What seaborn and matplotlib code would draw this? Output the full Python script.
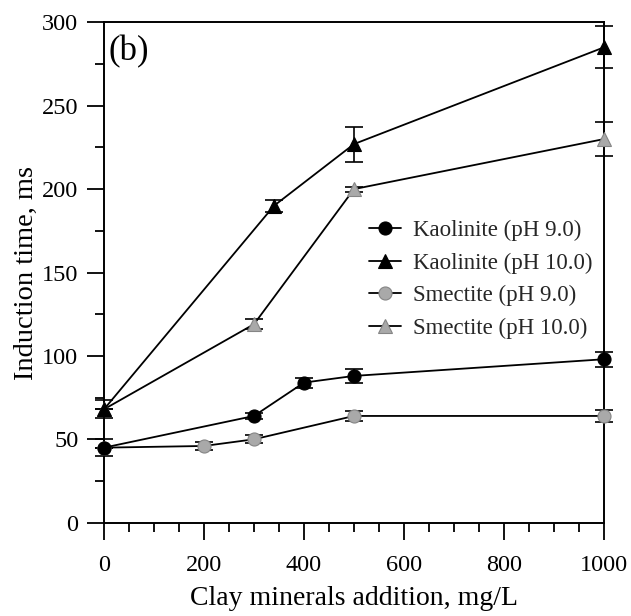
import numpy as np
import pandas as pd
import matplotlib
matplotlib.use("Agg")
import matplotlib.pyplot as plt
from matplotlib.ticker import MultipleLocator
import seaborn as sns

# ---- data ----
kao9_x = [0, 300, 400, 500, 1000]
kao9_y = [45, 64, 84, 88, 98]
kao9_err = [5, 2, 3, 4, 4.5]

kao10_x = [0, 340, 500, 1000]
kao10_y = [68, 190, 227, 285]
kao10_err = [5.5, 3.5, 10.5, 12.5]

sme9_x = [0, 200, 300, 500, 1000]
sme9_y = [45, 46, 50, 64, 64]
sme9_err = [0, 2.5, 2.5, 3, 3.5]

sme10_x = [0, 300, 500, 1000]
sme10_y = [68, 119, 200, 230]
sme10_err = [0, 3, 1.5, 10]

labels = ["Kaolinite (pH 9.0)", "Kaolinite (pH 10.0)",
          "Smectite (pH 9.0)", "Smectite (pH 10.0)"]
x_ticks = [0, 200, 400, 600, 800, 1000]
y_ticks = [0, 50, 100, 150, 200, 250, 300]
x_label = "Clay minerals addition, mg/L"
y_label = "Induction time, ms"
panel = "(b)"

sns.set_theme(style="ticks")
plt.rcParams["font.family"] = ["Liberation Serif", "DejaVu Serif"]

fig = plt.figure(figsize=(6.31, 6.16), dpi=100)
ax = fig.add_axes([104 / 631, 1 - 522.7 / 616, 500 / 631, 500.4 / 616])

grey_face = "#a9a9a9"
grey_edge = "#858585"

series = [
    (sme9_x, sme9_y, sme9_err, labels[2], "o", grey_face, grey_edge, 9.4),
    (sme10_x, sme10_y, sme10_err, labels[3], "^", grey_face, grey_edge, 10),
    (kao9_x, kao9_y, kao9_err, labels[0], "o", "black", "black", 9.4),
    (kao10_x, kao10_y, kao10_err, labels[1], "^", "black", "black", 10),
]

handles = {}
for xs, ys, es, lab, mk, fc, ec, ms in series:
    df = pd.DataFrame({"x": xs, "y": ys, "e": es})
    ax.errorbar(df["x"], df["y"], yerr=df["e"], fmt="none", ecolor="black",
                elinewidth=1.2, capsize=6.5, capthick=1.2, zorder=2, clip_on=False)
    sns.lineplot(data=df, x="x", y="y", ax=ax, color="black", lw=1.3,
                 marker=mk, markersize=ms, markerfacecolor=fc,
                 markeredgecolor=ec, markeredgewidth=0.8, label=lab,
                 zorder=3, clip_on=False, legend=False)
    handles[lab] = ax.lines[-1]

leg = ax.legend([handles[l] for l in labels], labels, frameon=False,
                loc="upper left", bbox_to_anchor=(0.53, 0.605),
                borderpad=0, borderaxespad=0, fontsize=16.5,
                handlelength=1.4, handletextpad=0.5, labelspacing=0.5)

ax.set_xlim(0, 1000)
ax.set_ylim(0, 300)
ax.set_xticks(x_ticks)
ax.set_yticks(y_ticks)
ax.xaxis.set_minor_locator(MultipleLocator(50))
ax.yaxis.set_minor_locator(MultipleLocator(25))
ax.tick_params(axis="both", which="major", direction="out", length=12.5,
               width=1.3, labelsize=17.5, color="black", labelcolor="black")
ax.tick_params(axis="x", which="major", pad=11)
ax.tick_params(axis="y", which="major", pad=6)
ax.tick_params(axis="both", which="minor", direction="out", length=6.5,
               width=1.3, color="black")
ax.tick_params(top=False, right=False, which="both")
for s in ax.spines.values():
    s.set_linewidth(1.4)
    s.set_color("black")

ax.set_xlabel(x_label, fontsize=20, color="black", labelpad=7)
ax.set_ylabel(y_label, fontsize=20.5, color="black", labelpad=2)
ax.text(0.008, 0.975, panel, transform=ax.transAxes, fontsize=25,
        va="top", ha="left", color="black")

fig.savefig("out.png", dpi=100, facecolor="white")
